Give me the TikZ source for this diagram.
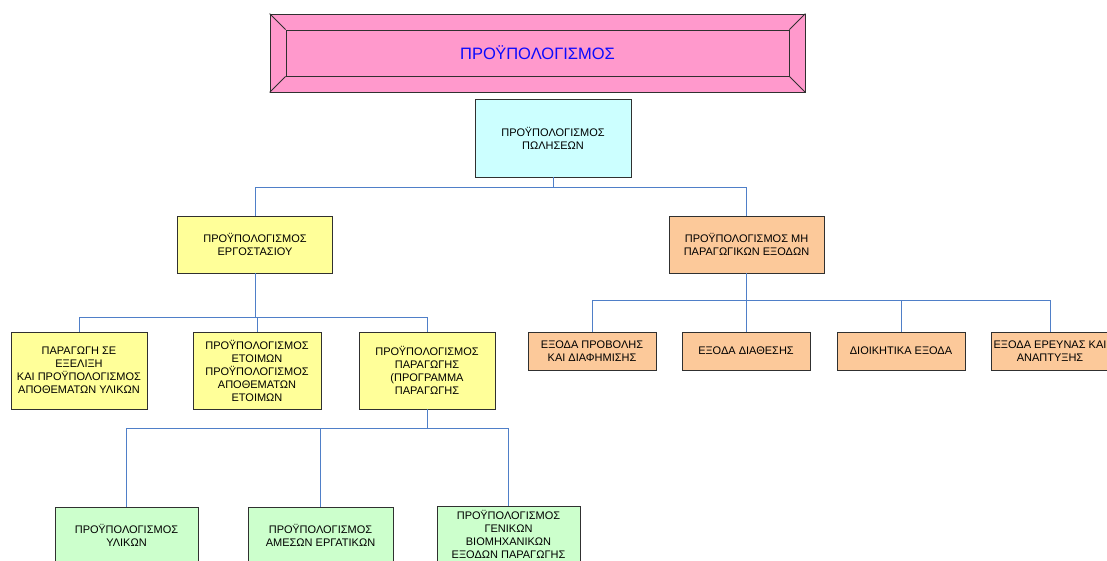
\documentclass[tikz,border=0pt]{standalone}
\usepackage{fontspec}
\setmainfont{Liberation Sans}
\definecolor{bannerpink}{HTML}{FF99CC}
\definecolor{titleblue}{HTML}{0A0AFF}
\definecolor{salescyan}{HTML}{CCFFFF}
\definecolor{plantyellow}{HTML}{FFFF99}
\definecolor{costorange}{HTML}{FCC99A}
\definecolor{prodgreen}{HTML}{CCFFCC}
\definecolor{boxline}{HTML}{303030}
\definecolor{linkblue}{HTML}{4F7FC8}
\begin{document}
\begin{tikzpicture}[x=1pt,y=-1pt,
    box/.style={rectangle, draw=boxline, line width=0.8pt, align=center, inner sep=0pt,
                font=\fontsize{11}{13}\selectfont},
    link/.style={draw=linkblue, line width=0.9pt}]
\useasboundingbox (0,0) rectangle (1107,561);
\clip (0,0) rectangle (1107,561);

% banner
\node[box, fill=bannerpink, minimum width=535, minimum height=78] (banner) at (537.5,53) {};
\node[box, minimum width=503, minimum height=46, text=titleblue,
      font=\fontsize{16.5}{20}\selectfont] (title) at (537.5,53) {ΠΡΟΫΠΟΛΟΓΙΣΜΟΣ};
\draw[boxline, line width=0.8pt] (banner.north west) -- (title.north west);
\draw[boxline, line width=0.8pt] (banner.north east) -- (title.north east);
\draw[boxline, line width=0.8pt] (banner.south west) -- (title.south west);
\draw[boxline, line width=0.8pt] (banner.south east) -- (title.south east);

% top levels
\node[box, fill=salescyan, minimum width=156, minimum height=78] (sales) at (553,138)
    {ΠΡΟΫΠΟΛΟΓΙΣΜΟΣ\\ΠΩΛΗΣΕΩΝ};
\node[box, fill=plantyellow, minimum width=155, minimum height=57] (plant) at (255,244.5)
    {ΠΡΟΫΠΟΛΟΓΙΣΜΟΣ\\ΕΡΓΟΣΤΑΣΙΟΥ};
\node[box, fill=costorange, minimum width=155, minimum height=57] (nonprod) at (746.5,244.5)
    {ΠΡΟΫΠΟΛΟΓΙΣΜΟΣ ΜΗ\\ΠΑΡΑΓΩΓΙΚΩΝ ΕΞΟΔΩΝ};

% plant branch
\node[box, fill=plantyellow, minimum width=136, minimum height=77] (wip) at (79,370.5)
    {ΠΑΡΑΓΩΓΗ ΣΕ\\ΕΞΕΛΙΞΗ\\ΚΑΙ ΠΡΟΫΠΟΛΟΓΙΣΜΟΣ\\ΑΠΟΘΕΜΑΤΩΝ ΥΛΙΚΩΝ};
\node[box, fill=plantyellow, minimum width=128, minimum height=77] (finished) at (257,370.5)
    {ΠΡΟΫΠΟΛΟΓΙΣΜΟΣ\\ΕΤΟΙΜΩΝ\\ΠΡΟΫΠΟΛΟΓΙΣΜΟΣ\\ΑΠΟΘΕΜΑΤΩΝ\\ΕΤΟΙΜΩΝ};
\node[box, fill=plantyellow, minimum width=136, minimum height=77] (output) at (427,370.5)
    {ΠΡΟΫΠΟΛΟΓΙΣΜΟΣ\\ΠΑΡΑΓΩΓΗΣ\\(ΠΡΟΓΡΑΜΜΑ\\ΠΑΡΑΓΩΓΗΣ};

% production branch
\node[box, fill=prodgreen, minimum width=143, minimum height=57] (material) at (126.5,535.5)
    {ΠΡΟΫΠΟΛΟΓΙΣΜΟΣ\\ΥΛΙΚΩΝ};
\node[box, fill=prodgreen, minimum width=145, minimum height=57] (labour) at (320.5,535.5)
    {ΠΡΟΫΠΟΛΟΓΙΣΜΟΣ\\ΑΜΕΣΩΝ ΕΡΓΑΤΙΚΩΝ};
\node[box, fill=prodgreen, minimum width=143, minimum height=57] (overhead) at (508.5,534.5)
    {ΠΡΟΫΠΟΛΟΓΙΣΜΟΣ\\ΓΕΝΙΚΩΝ\\ΒΙΟΜΗΧΑΝΙΚΩΝ\\ΕΞΟΔΩΝ ΠΑΡΑΓΩΓΗΣ};

% non-production branch
\node[box, fill=costorange, minimum width=128, minimum height=38] (promo) at (592,351)
    {ΕΞΟΔΑ ΠΡΟΒΟΛΗΣ\\ΚΑΙ ΔΙΑΦΗΜΙΣΗΣ};
\node[box, fill=costorange, minimum width=128, minimum height=38] (selling) at (746,351)
    {ΕΞΟΔΑ ΔΙΑΘΕΣΗΣ};
\node[box, fill=costorange, minimum width=128, minimum height=38] (admin) at (901,351)
    {ΔΙΟΙΚΗΤΙΚΑ ΕΞΟΔΑ};
\node[box, fill=costorange, minimum width=118, minimum height=38] (research) at (1050,351)
    {ΕΞΟΔΑ ΕΡΕΥΝΑΣ ΚΑΙ\\ΑΝΑΠΤΥΞΗΣ};

% connectors
\draw[link] (sales.south) -- ++(0,10) -| (plant.north);
\draw[link] (sales.south) -- ++(0,10) -| (nonprod.north);
\draw[link] (plant.south) -- ++(0,44) -| (wip.north);
\draw[link] (plant.south) -- ++(0,44) -| (finished.north);
\draw[link] (plant.south) -- ++(0,44) -| (output.north);
\draw[link] (output.south) -- ++(0,19) -| (material.north);
\draw[link] (output.south) -- ++(0,19) -| (labour.north);
\draw[link] (output.south) -- ++(0,19) -| (overhead.north);
\draw[link] (nonprod.south) -- ++(0,27) -| (promo.north);
\draw[link] (nonprod.south) -- ++(0,27) -| (selling.north);
\draw[link] (nonprod.south) -- ++(0,27) -| (admin.north);
\draw[link] (nonprod.south) -- ++(0,27) -| (research.north);
\end{tikzpicture}
\end{document}
